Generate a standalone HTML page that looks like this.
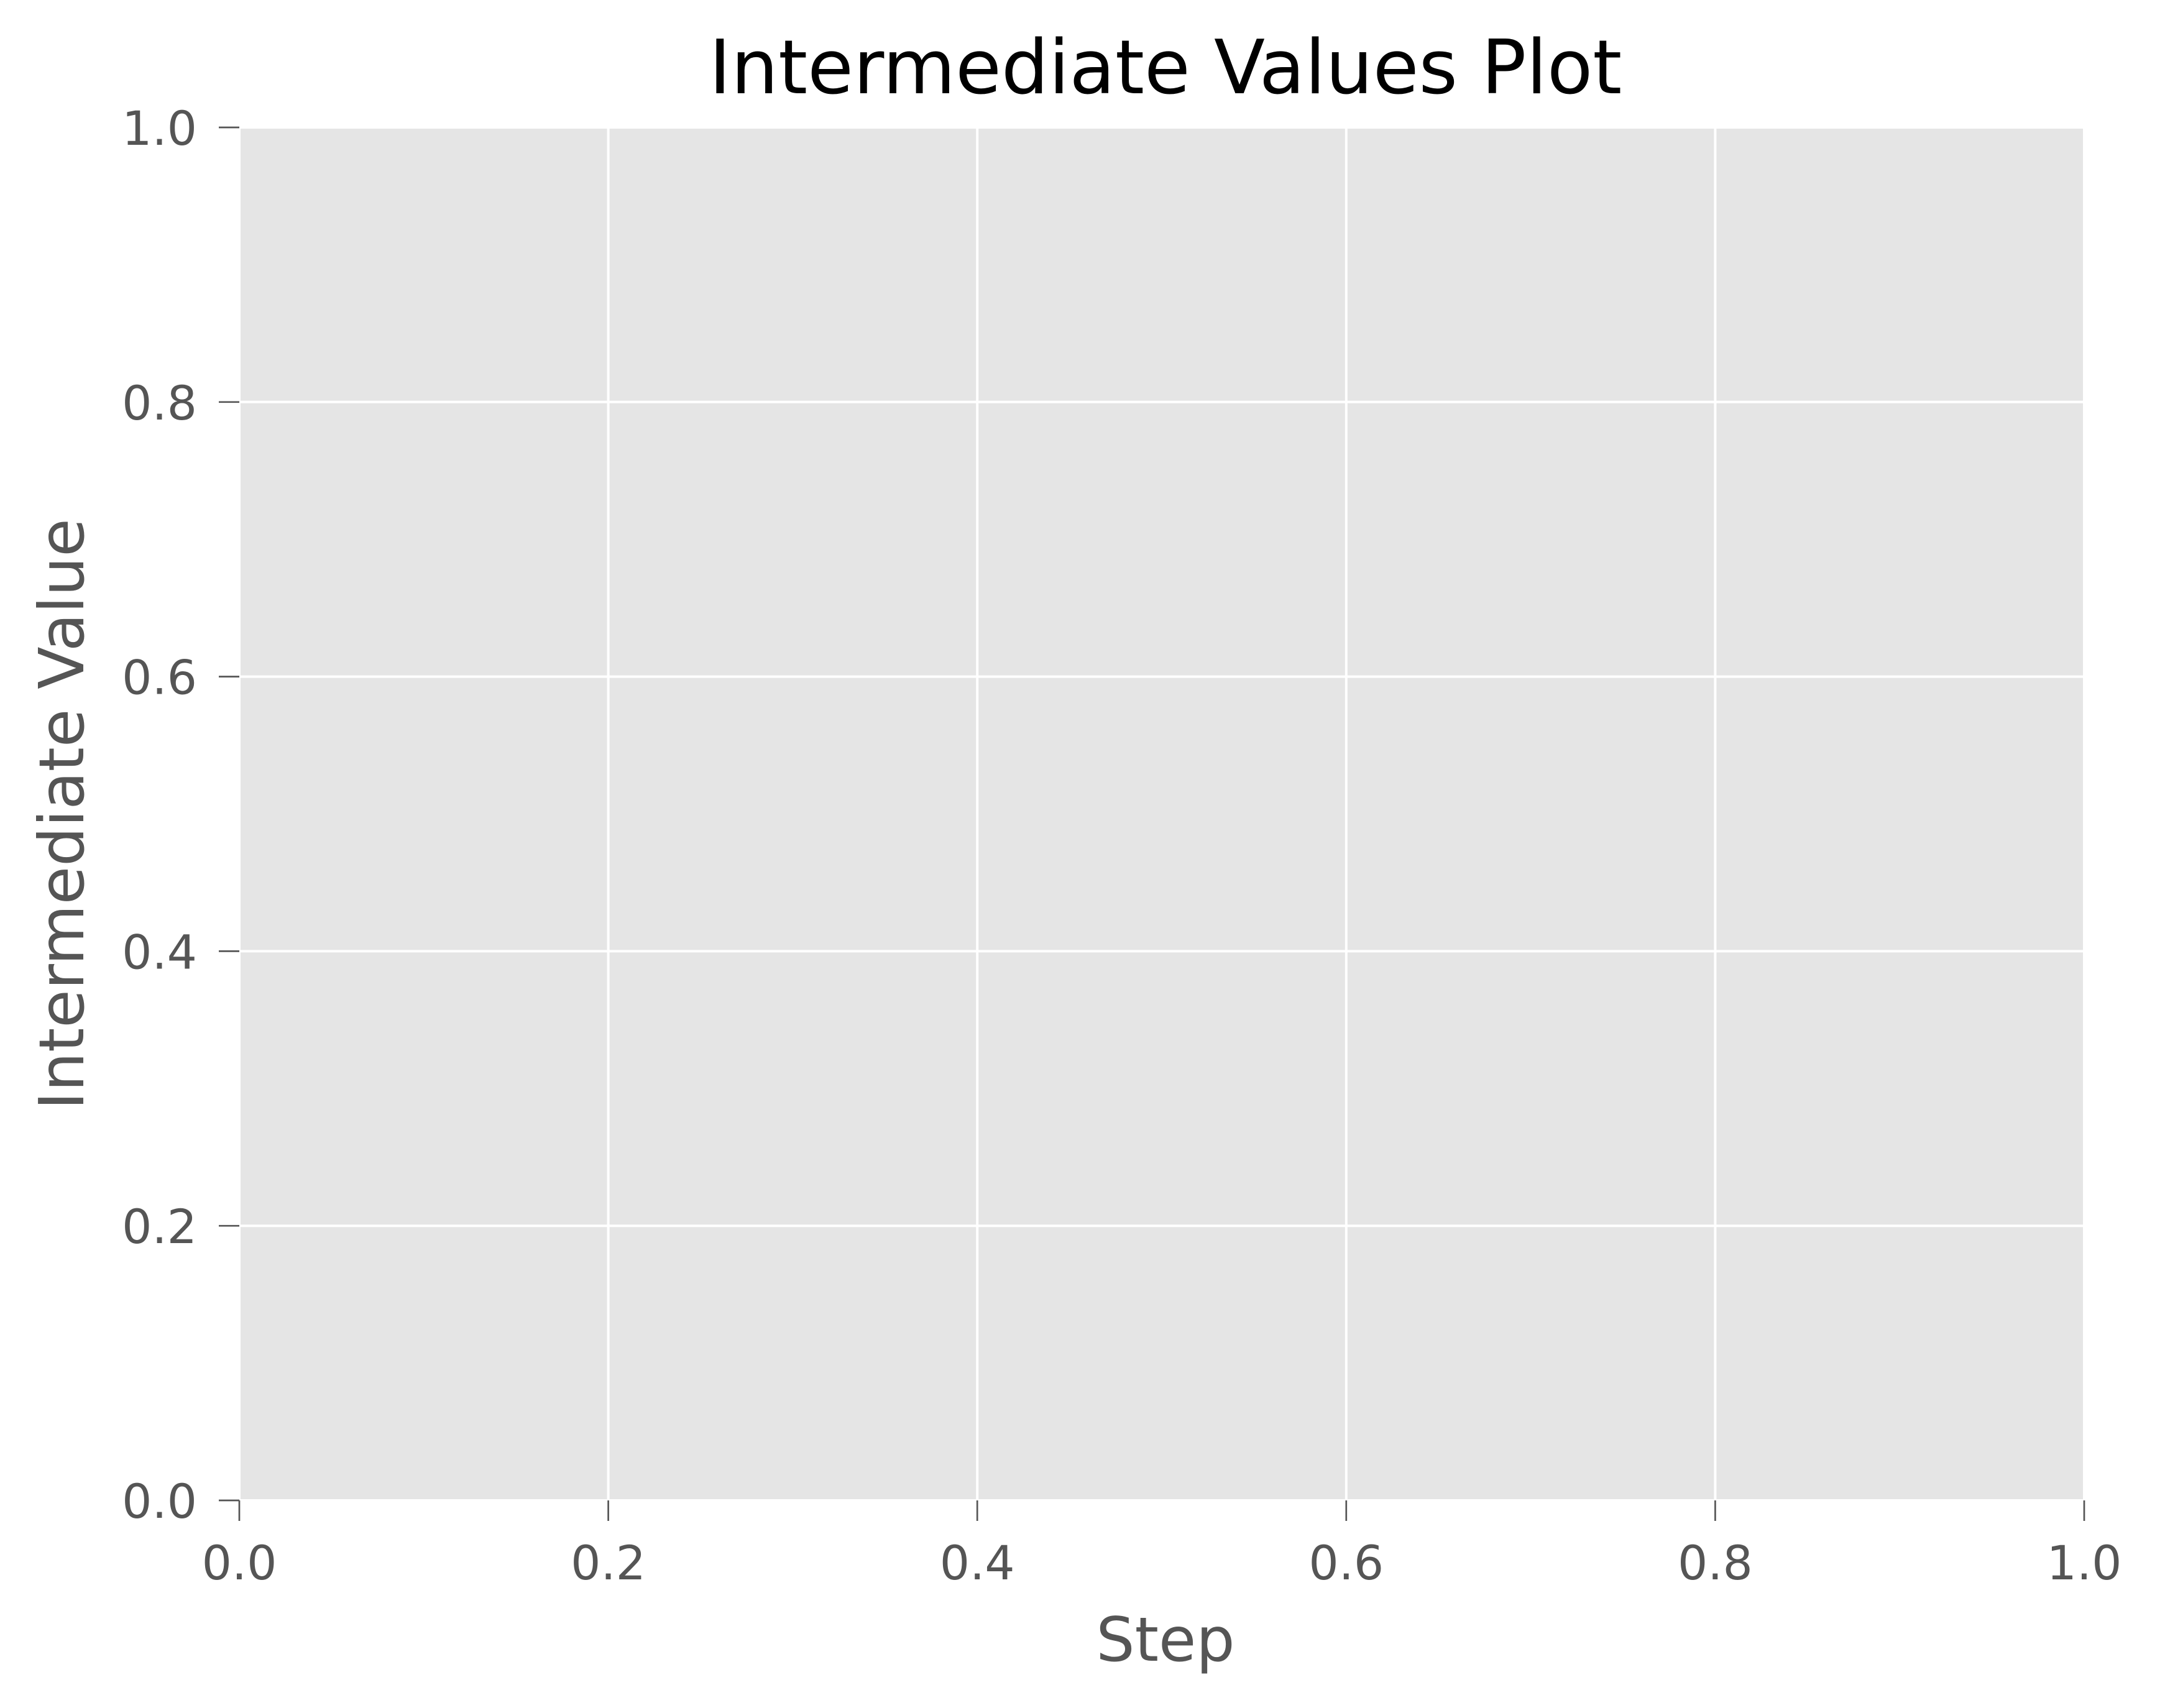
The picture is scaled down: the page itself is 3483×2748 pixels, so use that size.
<!DOCTYPE html>
<html><head><meta charset="utf-8"><style>
html,body{margin:0;padding:0;background:#fff;}
svg{display:block;font-family:"DejaVu Sans","Liberation Sans",sans-serif;}
</style></head><body>
<svg id="chart" width="3483" height="2748" viewBox="0 0 3483 2748" xmlns="http://www.w3.org/2000/svg">
<rect width="3483" height="2748" fill="#fff"/>
<rect x="385" y="205" width="2968" height="2209" fill="#e5e5e5"/>
<g id="grid"></g>
<g id="xticks"></g>
<g id="yticks"></g>
<text x="1875" y="150" text-anchor="middle" font-size="120" fill="#000">Intermediate Values Plot</text>
<text x="1875" y="2672" text-anchor="middle" font-size="98" fill="#555">Step</text>
<text transform="translate(134,1310) rotate(-90)" text-anchor="middle" font-size="100" fill="#555">Intermediate Value</text>
</svg>
<script>
const xTickValues = [0, 0.2, 0.4, 0.6, 0.8, 1.0];
const yTickValues = [0, 0.2, 0.4, 0.6, 0.8, 1.0];
const xTickLabels = ["0.0", "0.2", "0.4", "0.6", "0.8", "1.0"];
const yTickLabels = ["0.0", "0.2", "0.4", "0.6", "0.8", "1.0"];

const L = 385, R = 3353, T = 205, B = 2414;
const xDomain = [0, 1], yDomain = [0, 1];
function xScale(v){ return L + (v - xDomain[0]) / (xDomain[1] - xDomain[0]) * (R - L); }
function yScale(v){ return B - (v - yDomain[0]) / (yDomain[1] - yDomain[0]) * (B - T); }
const NS = "http://www.w3.org/2000/svg";
function mk(tag, attrs, parent){
  const e = document.createElementNS(NS, tag);
  for (const k in attrs) e.setAttribute(k, attrs[k]);
  parent.appendChild(e);
  return e;
}
const grid = document.getElementById('grid');
const xg = document.getElementById('xticks');
const yg = document.getElementById('yticks');

xTickValues.forEach((v, i) => {
  const x = xScale(v);
  const gl = mk('line', {x1: x, x2: x, y1: T, y2: B, stroke: '#fff', 'stroke-width': 4}, grid);
  
  
  const tk = mk('line', {x1: x, x2: x, y1: B, y2: B + 33, stroke: '#555', 'stroke-width': 2.7}, xg);
  
  
  const t = mk('text', {x: x, y: 2541, 'text-anchor': 'middle', 'font-size': 76, fill: '#555'}, xg);
  t.textContent = xTickLabels[i];
  
  
});
yTickValues.forEach((v, i) => {
  const y = yScale(v);
  const gl = mk('line', {x1: L, x2: R, y1: y, y2: y, stroke: '#fff', 'stroke-width': 4}, grid);
  
  
  const tk = mk('line', {x1: L - 33, x2: L, y1: y, y2: y, stroke: '#555', 'stroke-width': 2.7}, yg);
  
  
  const t = mk('text', {x: 317, y: y + 28, 'text-anchor': 'end', 'font-size': 76, fill: '#555'}, yg);
  t.textContent = yTickLabels[i];
  
  
});
</script>
</body></html>
